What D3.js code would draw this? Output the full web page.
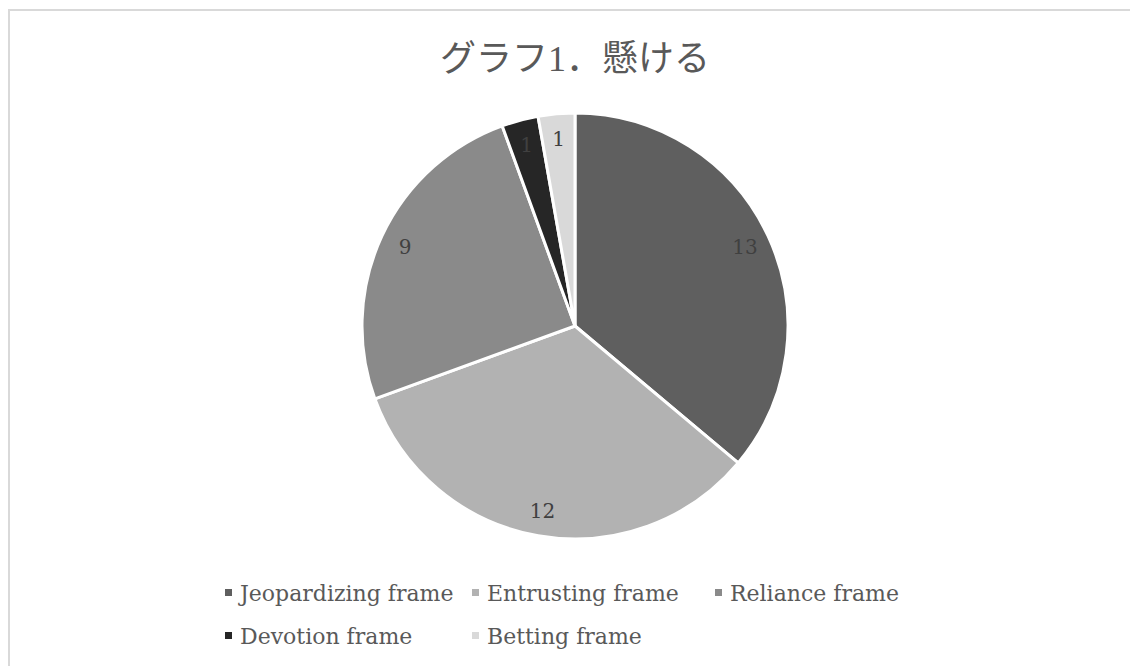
<!DOCTYPE html>
<html>
<head>
<meta charset="utf-8">
<script src="https://cdn.jsdelivr.net/npm/d3@7"></script>
<style>
  body { margin: 0; background: #fff; }
  svg text { font-family: "DejaVu Serif", "Noto Sans CJK JP", serif; }
  svg text.title { font-family: "Liberation Serif", "Noto Sans CJK JP", serif; }
</style>
</head>
<body>
<div id="chart"></div>
<script>
(function(){

var width = 1130,
	height = 666;

// data
var categories = ["Jeopardizing frame", "Entrusting frame", "Reliance frame", "Devotion frame", "Betting frame"];
var values = [13, 12, 9, 1, 1];
var colors = ["#5f5f5f", "#b2b2b2", "#8a8a8a", "#262626", "#d9d9d9"];
var title = "グラフ1．懸ける";

var svg = d3.select("#chart")
	.append("svg")
	.attr("width", width)
	.attr("height", height)

// chart border
svg.append("rect")
	.attr("x", 9)
	.attr("y", 10)
	.attr("width", width + 20)
	.attr("height", height + 20)
	.attr("fill", "none")
	.attr("stroke", "#d9d9d9")
	.attr("stroke-width", 2)

svg.append("text")
	.attr("class", "title")
	.attr("x", 575)
	.attr("y", 71)
	.attr("text-anchor", "middle")
	.attr("font-size", 36)
	.attr("fill", "#595959")
	.text(title)

var cx = 575, cy = 326, r = 213;

var pie = d3.pie().sort(null).value(function(d){ return d.value; })
var arc = d3.arc().innerRadius(0).outerRadius(r)
var labelArc = d3.arc().innerRadius(r * 0.88).outerRadius(r * 0.88)

var data = categories.map(function(c, i){
	return { name: c, value: values[i], color: colors[i] };
})

var g = svg.append("g")
	.attr("transform", "translate(" + cx + "," + cy + ")")

g.selectAll("path")
	.data(pie(data))
	.enter()
	.append("path")
	.attr("d", arc)
	.attr("fill", function(d){ return d.data.color; })
	.attr("stroke", "#fff")
	.attr("stroke-width", 3)
	.attr("stroke-linejoin", "round")

g.selectAll("text.lbl")
	.data(pie(data))
	.enter()
	.append("text")
	.attr("class", "lbl")
	.attr("transform", function(d){ return "translate(" + labelArc.centroid(d) + ")"; })
	.attr("text-anchor", "middle")
	.attr("dy", "0.35em")
	.attr("font-size", 20)
	.attr("fill", "#404040")
	.text(function(d){ return d.data.value; })

// legend
var colX = [225, 472, 715];
var rowY = [593, 636];

var legend = svg.selectAll("g.legend")
	.data(data)
	.enter()
	.append("g")
	.attr("class", "legend")
	.attr("transform", function(d, i){
		return "translate(" + colX[i % 3] + "," + rowY[Math.floor(i / 3)] + ")";
	})

legend.append("rect")
	.attr("x", 0)
	.attr("y", -4)
	.attr("width", 7)
	.attr("height", 7)
	.attr("fill", function(d){ return d.color; })

legend.append("text")
	.attr("x", 15)
	.attr("dy", "0.35em")
	.attr("font-size", 22)
	.attr("fill", "#595959")
	.text(function(d){ return d.name; })

})();
</script>
</body>
</html>
